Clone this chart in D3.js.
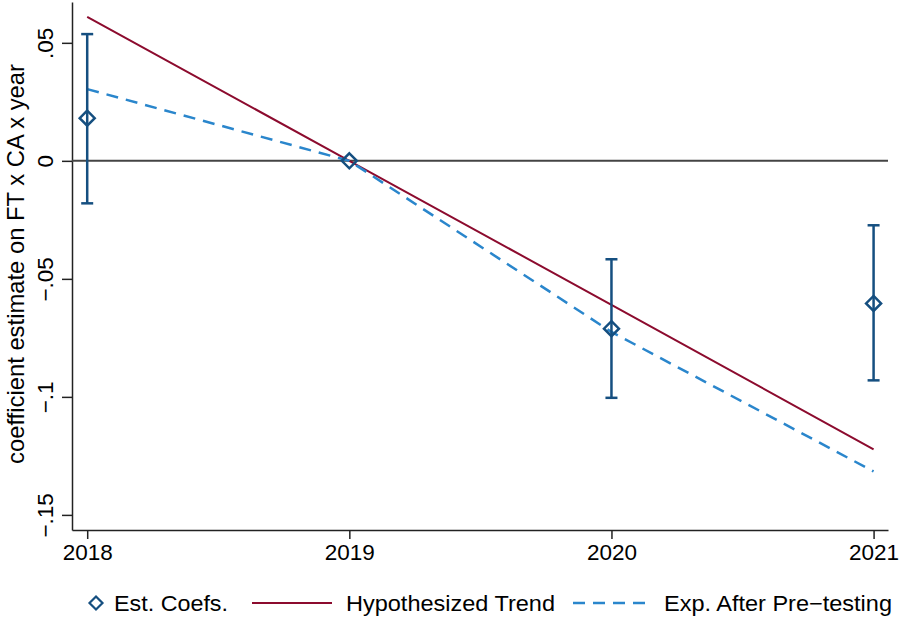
<!DOCTYPE html>
<html lang="en">
  <head>
    <meta charset="UTF-8" />
    <title>Coefficient estimates</title>
    <script src="https://d3js.org/d3.v7.min.js"></script>
    <style>
      body { margin: 0; background: #fff; }
      text { font-family: "Liberation Sans", Arial, Helvetica, sans-serif; fill: #000; }
    </style>
  </head>
  <body>
    <div id="chart"></div>
    <script>
      // data
      const years = [2018, 2019, 2020, 2021];
      const estCoefs = [0.0181, 0, -0.0711, -0.0604];
      const ciLow = [-0.018, 0, -0.1004, -0.093];
      const ciHigh = [0.0537, 0, -0.0417, -0.0273];
      const hypTrend = [0.061, 0, -0.061, -0.1222];
      const expPretest = [0.0304, 0, -0.0725, -0.1316];
      const yTicks = [0.05, 0, -0.05, -0.1, -0.15];
      const yTickLabels = [".05", "0", "\u2212.05", "\u2212.1", "\u2212.15"];
      const legendLabels = ["Est. Coefs.", "Hypothesized Trend", "Exp. After Pre\u2212testing"];

      const w = 899;
      const h = 620;
      const padL = 72, padR = 888, padT = 2, padB = 530;

      const navy = "#154f80";
      const red = "#8c0b2e";
      const blue = "#2a86cc";

      const svg = d3
        .select("#chart")
        .append("svg")
        .attr("width", w)
        .attr("height", h);

      const x = d3.scaleLinear().domain([2017.942, 2021.055]).range([padL, padR]);
      const y = d3.scaleLinear().domain([-0.1564, 0.0673]).range([padB, padT]);

      // axes
      const yAxis = svg
        .append("g")
        .attr("transform", `translate(${padL},0)`)
        .call(d3.axisLeft(y).tickValues(yTicks).tickSize(10).tickSizeOuter(0)
          .tickFormat((d, i) => yTickLabels[i]));
      yAxis.selectAll("text")
        .attr("transform", "rotate(-90)")
        .attr("x", 0)
        .attr("y", -19)
        .attr("dy", 0)
        .attr("text-anchor", "middle")
        .style("font-size", "22.5px");

      const xAxis = svg
        .append("g")
        .attr("transform", `translate(0,${padB})`)
        .call(d3.axisBottom(x).tickValues(years).tickSize(9).tickSizeOuter(0)
          .tickFormat(d3.format("d")));
      xAxis.selectAll("text")
        .attr("y", 30)
        .attr("dy", 0)
        .style("font-size", "22.5px");

      svg.selectAll(".domain, .tick line").attr("stroke", "#222").attr("stroke-width", 1.5);

      // y axis title
      svg.append("text")
        .attr("transform", `translate(24,${(padT + padB) / 2 - 2}) rotate(-90)`)
        .attr("text-anchor", "middle")
        .style("font-size", "23.8px")
        .text("coefficient estimate on FT x CA x year");

      // zero line
      svg.append("line")
        .attr("x1", padL).attr("x2", padR)
        .attr("y1", y(0)).attr("y2", y(0))
        .attr("stroke", "#444").attr("stroke-width", 2);

      const line = (vals) => d3.line().x((d, i) => x(years[i])).y((d) => y(d))(vals);

      svg.append("path")
        .attr("d", line(hypTrend))
        .attr("fill", "none").attr("stroke", red).attr("stroke-width", 2);

      svg.append("path")
        .attr("d", line(expPretest))
        .attr("fill", "none").attr("stroke", blue).attr("stroke-width", 2.5)
        .attr("stroke-dasharray", "12,8");

      // confidence intervals
      const ci = svg.append("g").attr("stroke", navy).attr("stroke-width", 2.5);
      years.forEach((yr, i) => {
        if (ciLow[i] === ciHigh[i]) return;
        ci.append("line").attr("x1", x(yr)).attr("x2", x(yr)).attr("y1", y(ciLow[i])).attr("y2", y(ciHigh[i]));
        ci.append("line").attr("x1", x(yr) - 6).attr("x2", x(yr) + 6).attr("y1", y(ciLow[i])).attr("y2", y(ciLow[i]));
        ci.append("line").attr("x1", x(yr) - 6).attr("x2", x(yr) + 6).attr("y1", y(ciHigh[i])).attr("y2", y(ciHigh[i]));
      });

      // diamond markers
      const diamond = "M0,-7.5L7.5,0L0,7.5L-7.5,0Z";
      svg.selectAll(".pt")
        .data(estCoefs)
        .enter()
        .append("path")
        .attr("class", "pt")
        .attr("d", diamond)
        .attr("transform", (d, i) => `translate(${x(years[i])},${y(d)})`)
        .attr("fill", "none")
        .attr("stroke", navy)
        .attr("stroke-width", 2.5);

      // legend
      const lg = svg.append("g");
      const ly = 603;
      lg.append("path").attr("d", "M0,-6.5L6.5,0L0,6.5L-6.5,0Z")
        .attr("transform", `translate(96,${ly})`)
        .attr("fill", "none").attr("stroke", navy).attr("stroke-width", 2.2);
      lg.append("line").attr("x1", 252).attr("x2", 332).attr("y1", ly).attr("y2", ly)
        .attr("stroke", red).attr("stroke-width", 2);
      lg.append("line").attr("x1", 573).attr("x2", 646).attr("y1", ly).attr("y2", ly)
        .attr("stroke", blue).attr("stroke-width", 2.5).attr("stroke-dasharray", "12,8");
      const lx = [114, 346, 664];
      const lw = [114, 209, 228];
      legendLabels.forEach((t, i) => {
        lg.append("text").attr("x", lx[i]).attr("y", 611)
          .attr("textLength", lw[i]).attr("lengthAdjust", "spacingAndGlyphs")
          .style("font-size", "22px").text(t);
      });
    </script>
  </body>
</html>
